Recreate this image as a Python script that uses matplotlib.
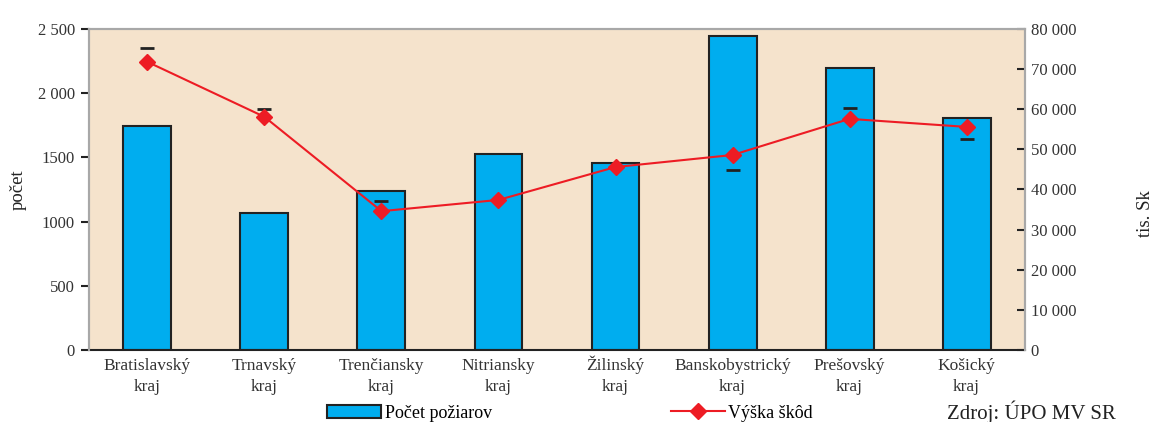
"""
Pocet poziarov a vyska skod podla krajov
"""

import numpy as np
import matplotlib.pyplot as plt
import matplotlib.transforms as mtransforms
from matplotlib.patches import Patch
from matplotlib.lines import Line2D

###############################################################################
# Data
kraje = ['Bratislavský', 'Trnavský', 'Trenčiansky', 'Nitriansky',
         'Žilinský', 'Banskobystrický', 'Prešovský', 'Košický']
pocet = [1745, 1068, 1238, 1526, 1456, 2445, 2196, 1807]
skody = [71800, 58100, 34600, 37400, 45600, 48600, 57600, 55600]

# small black dashes near the points
dash_x = [0, 1, 2, 5, 6, 7]
dash_y = [75300, 60100, 37100, 44900, 60300, 52600]

left_ticks = [0, 500, 1000, 1500, 2000, 2500]
left_labels = ['0', '500', '1000', '1500', '2 000', '2 500']
right_ticks = [0, 10000, 20000, 30000, 40000, 50000, 60000, 70000, 80000]
right_labels = ['0', '10 000', '20 000', '30 000', '40 000', '50 000', '60 000', '70 000', '80 000']

###############################################################################
# Colours
bg = '#f5e3cc'
blue = '#00adef'
red = '#ed1c24'
txt = '#333333'

plt.rcParams['font.family'] = ['Liberation Serif', 'DejaVu Serif']

fig = plt.figure(figsize=[11.55, 4.22], dpi=100)
ax = fig.add_axes([0.077, 0.1706, 0.8105, 0.7607])
ax.set_facecolor(bg)

x = np.arange(len(kraje))
ax.bar(x, pocet, width=0.41, color=blue, edgecolor='#222222', linewidth=1.5, zorder=2)
ax.set_xlim(-0.5, 7.5)
ax.set_ylim(0, 2500)
ax.set_yticks(left_ticks, labels=left_labels, fontsize=12, color=txt)
ax.set_xticks(x, labels=[])
ax.tick_params(axis='x', length=0)
ax.tick_params(axis='y', length=6, width=1.5, color='#222222', pad=4)

# category labels, two lines on fixed baselines
trans = mtransforms.blended_transform_factory(ax.transData, fig.transFigure)
for i in range(len(kraje)):
    ax.text(x[i], 1 - 370 / 422, kraje[i], transform=trans, ha='center', va='baseline',
            fontsize=12.5, color=txt)
    ax.text(x[i], 1 - 391 / 422, 'kraj', transform=trans, ha='center', va='baseline',
            fontsize=12.5, color=txt)

for s in ['top', 'left', 'right']:
    ax.spines[s].set_color('#a8a8a8')
    ax.spines[s].set_linewidth(1.5)
ax.spines['bottom'].set_color('#222222')
ax.spines['bottom'].set_linewidth(1.5)

ax2 = ax.twinx()
ax2.plot(x, skody, color=red, linewidth=1.5, marker='D', markersize=8, zorder=4)
ax2.plot(dash_x, dash_y, linestyle='none', marker='_', markersize=10,
         markeredgewidth=2, color='#222222', zorder=3)
ax2.set_ylim(0, 80000)
ax2.set_yticks(right_ticks, labels=right_labels, fontsize=12, color=txt)
ax2.tick_params(axis='y', length=6, width=1.5, color='#222222', direction='in', pad=4)
for s in ['top', 'left', 'right']:
    ax2.spines[s].set_color('#a8a8a8')
    ax2.spines[s].set_linewidth(1.5)
ax2.spines['bottom'].set_visible(False)
ax.set_zorder(1)
ax2.set_zorder(2)
ax2.patch.set_visible(False)

# axis titles
fig.text(18 / 1155, 1 - 190 / 422, 'počet', rotation=90, ha='center', va='center',
         fontsize=13.5, color='#222222')
fig.text(1145 / 1155, 1 - 214 / 422, 'tis. Sk', rotation=90, ha='center', va='center',
         fontsize=13.5, color='#222222')

# Legend
handles = [Patch(facecolor=blue, edgecolor='#222222', linewidth=1.5),
           Line2D([], [], color=red, linewidth=1.5, marker='D', markersize=8)]
fig.legend(handles, ['Počet požiarov', 'Výška škôd'], loc='center',
           bbox_to_anchor=(0.4935, 1 - 413 / 422), ncol=2, frameon=False, fontsize=13,
           handlelength=3, handleheight=0.7, columnspacing=9.9, handletextpad=0.2,
           borderpad=0)

fig.text(0.82, 1 - 412 / 422, 'Zdroj: ÚPO MV SR', fontsize=15, color='#222222', va='center')

plt.savefig('out.png', dpi=100)
plt.close()
